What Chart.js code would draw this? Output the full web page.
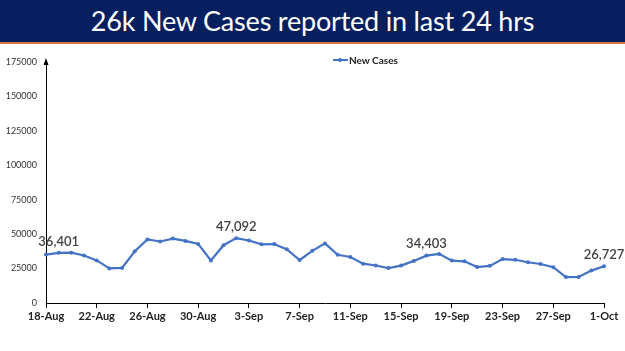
<!DOCTYPE html>
<html>
<head>
<meta charset="utf-8">
<script src="https://cdn.jsdelivr.net/npm/chart.js@4.4.0/dist/chart.umd.min.js"></script>
<style>
  html, body { margin: 0; padding: 0; background: #fff; }
  body { width: 625px; height: 351px; position: relative; overflow: hidden; font-family: Lato, "Open Sans", sans-serif; }
  #banner {
    position: absolute; left: 0; top: 0; width: 625px; height: 42px;
    background: #06205f; border-bottom: 2px solid #d9734a;
    color: #fff; font-size: 27px; line-height: 42px; text-align: center;
    letter-spacing: -0.2px;
  }
  #legend {
    position: absolute; left: 333px; top: 54px; font-size: 10px; color: #222;
    font-weight: bold; display: flex; align-items: center;
  }
  #legend .sym { width: 15px; height: 2px; background: #4472C4; position: relative; margin-right: 1px; }
  #legend .sym::after { content: ''; position: absolute; left: 5px; top: -1.5px; width: 4px; height: 4px; border-radius: 2px; background: #4472C4; }
  #wrap { position: absolute; left: 0; top: 44px; width: 625px; height: 307px; }
</style>
</head>
<body>
<div id="banner">26k New Cases reported in last 24 hrs</div>
<div id="wrap"><canvas id="c"></canvas></div>
<div id="legend"><span class="sym"></span>New Cases</div>
<script>
// Dates shown on the category axis
const dates = ['18-Aug', '19-Aug', '20-Aug', '21-Aug', '22-Aug', '23-Aug', '24-Aug', '25-Aug', '26-Aug', '27-Aug',
  '28-Aug', '29-Aug', '30-Aug', '31-Aug', '1-Sep', '2-Sep', '3-Sep', '4-Sep', '5-Sep', '6-Sep',
  '7-Sep', '8-Sep', '9-Sep', '10-Sep', '11-Sep', '12-Sep', '13-Sep', '14-Sep', '15-Sep', '16-Sep',
  '17-Sep', '18-Sep', '19-Sep', '20-Sep', '21-Sep', '22-Sep', '23-Sep', '24-Sep', '25-Sep', '26-Sep',
  '27-Sep', '28-Sep', '29-Sep', '30-Sep', '1-Oct'];

// Daily new cases
const newCases = [35178, 36401, 36571, 34457, 30948, 25072, 25467, 37593, 46164, 44658,
  46759, 45083, 42909, 30941, 41965, 47092, 45352, 42618, 42766, 38948,
  31222, 37875, 43263, 34973, 33376, 28591, 27254, 25404, 27176, 30570,
  34403, 35662, 30773, 30256, 26115, 26964, 31923, 31382, 29616, 28326,
  26041, 18795, 18870, 23529, 26727];

// Points that carry a value label
const labelledDates = ['19-Aug', '2-Sep', '17-Sep', '1-Oct'];

const yMax = 175000;
const yStep = 25000;

const valueLabels = {
  id: 'valueLabels',
  afterDatasetsDraw(chart) {
    const ctx = chart.ctx;
    const meta = chart.getDatasetMeta(0);
    ctx.save();
    ctx.font = '600 13px Lato, "Open Sans", sans-serif';
    ctx.fillStyle = '#404040';
    ctx.textAlign = 'center';
    ctx.textBaseline = 'bottom';
    labelledDates.forEach(function(d) {
      const i = dates.indexOf(d);
      const pt = meta.data[i];
      ctx.fillText(newCases[i].toLocaleString('en-US'), pt.x, pt.y - 5);
    });
    ctx.restore();
  }
};

const axisArrow = {
  id: 'axisArrow',
  afterDraw(chart) {
    const ctx = chart.ctx;
    const x = chart.chartArea.left;
    const y = chart.chartArea.top;
    ctx.save();
    ctx.fillStyle = '#000';
    ctx.beginPath();
    ctx.moveTo(x, y - 4);
    ctx.lineTo(x - 2.5, y + 3);
    ctx.lineTo(x + 2.5, y + 3);
    ctx.closePath();
    ctx.fill();
    ctx.restore();
  }
};

new Chart(document.getElementById('c'), {
  type: 'line',
  data: {
    labels: dates,
    datasets: [{
      label: 'New Cases',
      data: newCases,
      borderColor: '#4472C4',
      backgroundColor: '#4472C4',
      borderWidth: 2.2,
      pointRadius: 2,
      pointBackgroundColor: '#4472C4',
      pointBorderWidth: 0,
      tension: 0
    }]
  },
  options: {
    responsive: true,
    maintainAspectRatio: false,
    animation: false,
    layout: { padding: { top: 18, right: 21, left: 0, bottom: 0 } },
    plugins: { legend: { display: false }, tooltip: { enabled: false } },
    scales: {
      x: {
        offset: false,
        afterFit: function(scale) { scale.height = 48; },
        border: { display: true, color: '#000', width: 1 },
        grid: {
          drawOnChartArea: false,
          drawTicks: true,
          tickLength: 5,
          color: function(c) { return c.index % 4 === 0 ? '#000' : 'rgba(0,0,0,0)'; }
        },
        ticks: {
          autoSkip: false,
          maxRotation: 0,
          padding: 2,
          color: '#222',
          font: { family: 'Lato, "Open Sans", sans-serif', size: 11, weight: 'bold' },
          callback: function(v, i) { return i % 4 === 0 ? dates[i] : ''; }
        }
      },
      y: {
        min: 0,
        max: yMax,
        afterFit: function(scale) { scale.width = 46; },
        border: { display: true, color: '#000', width: 1 },
        grid: { display: false },
        ticks: {
          stepSize: yStep,
          padding: 1,
          color: '#333',
          font: { family: 'Lato, "Open Sans", sans-serif', size: 9 },
          callback: function(v) { return String(v); }
        }
      }
    }
  },
  plugins: [valueLabels, axisArrow]
});
</script>
</body>
</html>
